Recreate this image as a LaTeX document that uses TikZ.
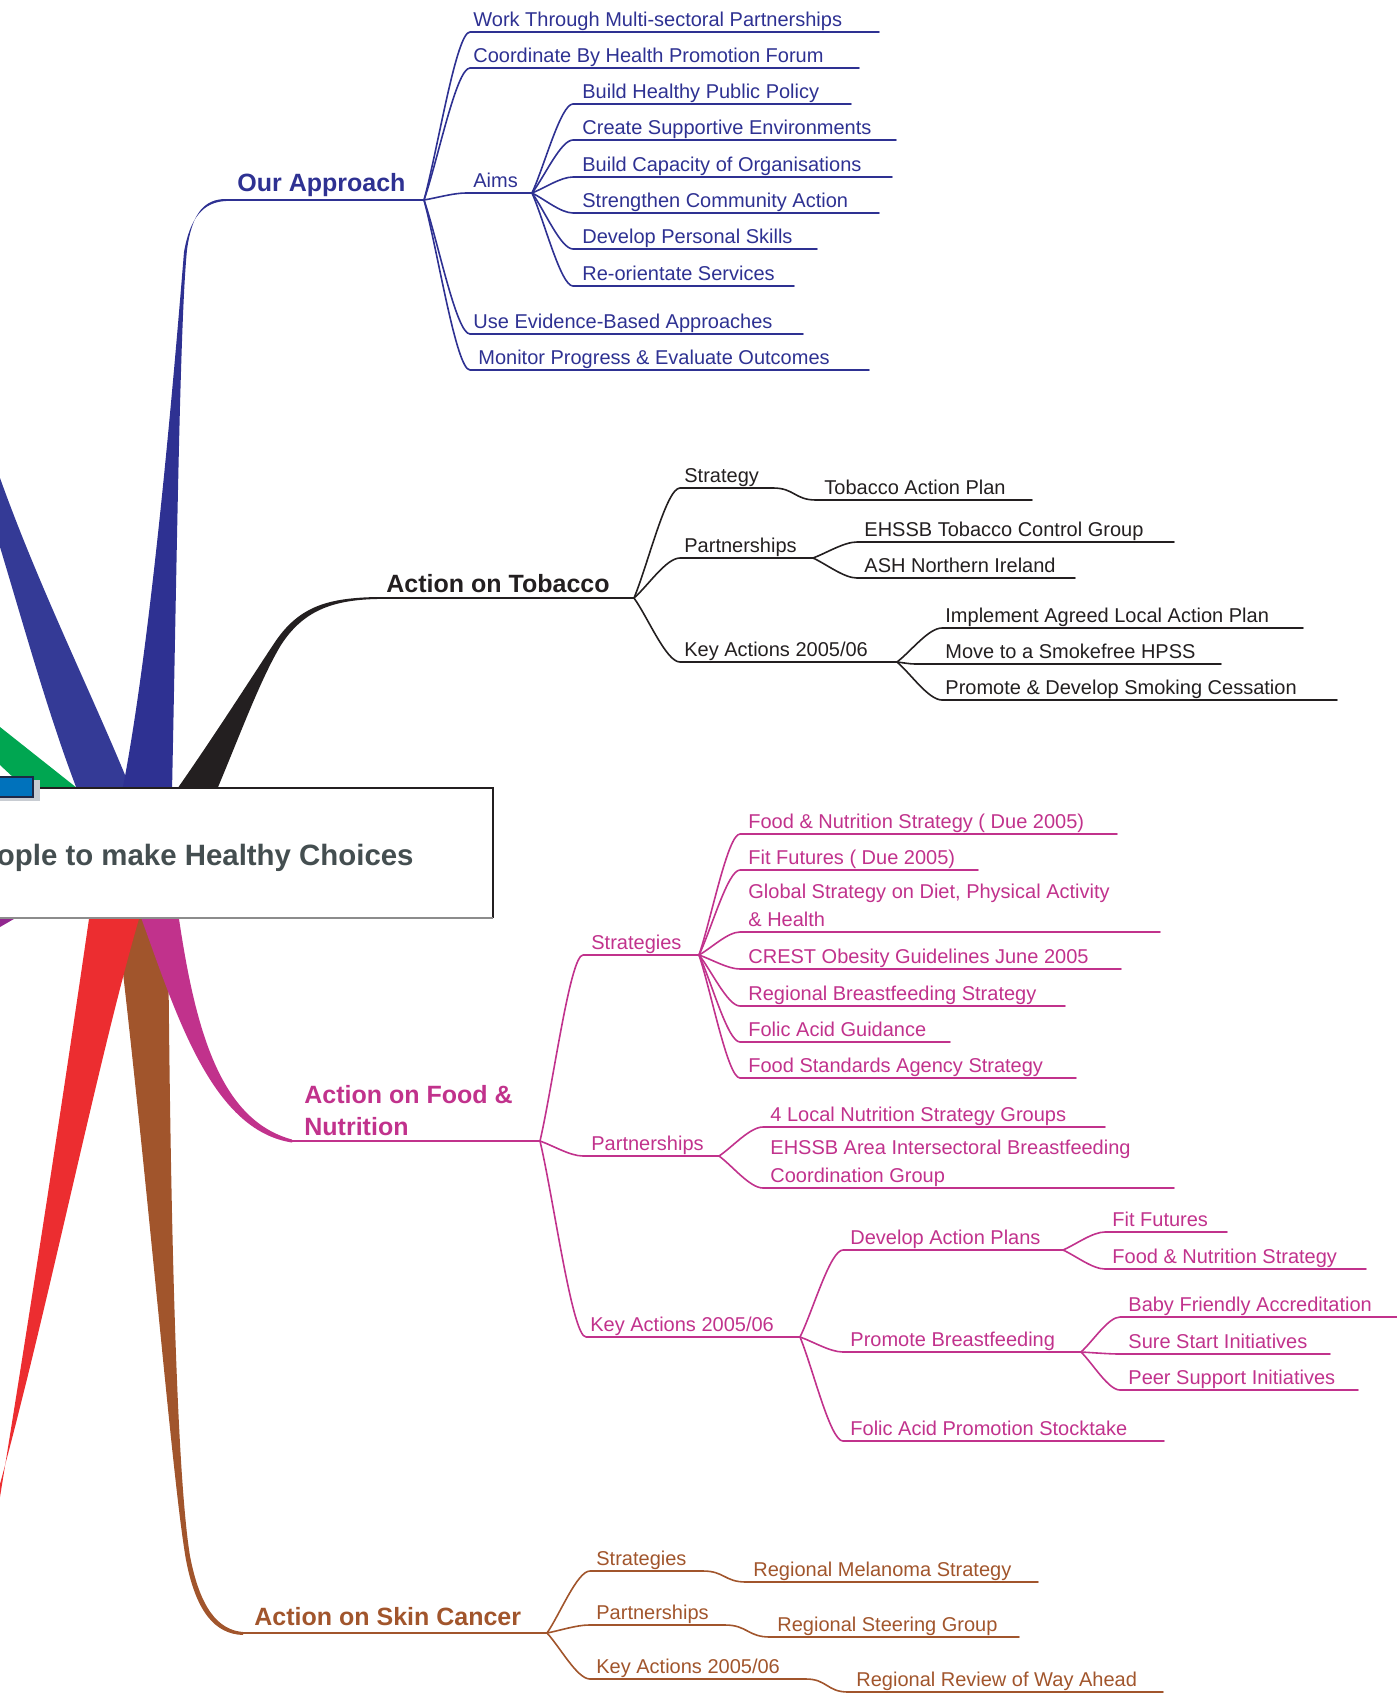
\documentclass[tikz,border=0pt]{standalone}
\usepackage{fontspec}
\setmainfont{Liberation Sans}
\usetikzlibrary{calc}

\definecolor{navy}{RGB}{46,49,146}
\definecolor{navyA}{RGB}{52,58,150}
\definecolor{ink}{RGB}{35,31,32}
\definecolor{rose}{RGB}{193,50,140}
\definecolor{rust}{RGB}{161,85,44}
\definecolor{scarlet}{RGB}{236,45,48}
\definecolor{leafgreen}{RGB}{0,166,81}
\definecolor{plum}{RGB}{146,39,143}
\definecolor{tabblue}{RGB}{0,114,188}
\definecolor{tabline}{RGB}{30,40,70}
\definecolor{tabshade}{RGB}{200,204,210}
\definecolor{slate}{RGB}{68,78,80}
\definecolor{rulegray}{RGB}{140,140,140}

\tikzset{
  lbl/.style={anchor=base west, inner sep=0pt, font=\fontsize{10}{14}\selectfont},
  head/.style={anchor=base west, inner sep=0pt, font=\bfseries\fontsize{12.5}{16}\selectfont},
  core/.style={anchor=base east, inner sep=0pt, text=slate, font=\bfseries\fontsize{14.7}{18}\selectfont},
  twig/.style={line width=0.8pt, line cap=round, line join=round},
  stem/.style={line width=1pt, line cap=round},
  sprig/.style={to path={.. controls ($(\tikztostart)!0.3!(\tikztotarget)$) and ($(\tikztotarget)!0.3!(\tikztostart|-\tikztotarget)$) .. (\tikztotarget)}},
  swerve/.style={to path={.. controls ($(\tikztostart)!0.5!(\tikztotarget|-\tikztostart)$) and ($(\tikztotarget)!0.5!(\tikztostart|-\tikztotarget)$) .. (\tikztotarget)}}
}

% [connector] name, parent, corner x, text x, rule y, rule end x, text
\newcommand\leaf[8][sprig]{%
  \coordinate (#2-c) at (#4,#6);
  \coordinate (#2-e) at (#7,#6);
  \node[lbl] (#2) at (#5,#6-6) {#8};
  \draw[twig] (#3) to[#1] (#2-c) -- (#2-e);
}

\begin{document}
\begin{tikzpicture}[x=0.5pt,y=-0.5pt]
\useasboundingbox (0,0) rectangle (1397,1697);
\clip (0,0) rectangle (1397,1697);

% thick tapered main branches
\fill[leafgreen] (0,727) -- (82,792) -- (29,792) -- (0,765) -- cycle;
\fill[navyA] (0,547) .. controls (25,630) and (50,720) .. (78,792) -- (132,792)
  .. controls (95,700) and (40,590) .. (0,478) -- cycle;
\fill[navy] (122,792) .. controls (150,650) and (172,400) .. (184,252)
  .. controls (190,218) and (203,202) .. (226,201) -- (226,199)
  .. controls (205,199) and (192,212) .. (187,250)
  .. controls (180,320) and (177,550) .. (172,792) -- cycle;
\fill[ink] (175,792) .. controls (215,735) and (255,672) .. (275,642)
  .. controls (300,605) and (330,598) .. (377,597) -- (377,599)
  .. controls (332,600) and (303,611) .. (281,645)
  .. controls (260,680) and (240,735) .. (216,792) -- cycle;
\fill[plum] (0,912) -- (26,912) -- (0,927) -- cycle;
\fill[rust] (116,912) .. controls (150,1200) and (172,1480) .. (186,1560)
  .. controls (196,1612) and (215,1634) .. (243,1635) -- (243,1632)
  .. controls (218,1630) and (200,1608) .. (190,1556)
  .. controls (176,1470) and (170,1200) .. (168,912) -- cycle;
\fill[scarlet] (90,912) .. controls (70,1050) and (40,1250) .. (0,1497) -- (0,1484)
  .. controls (50,1300) and (100,1050) .. (141,912) -- cycle;
\fill[rose] (139,912) .. controls (175,1010) and (210,1130) .. (292,1142.5) -- (292,1139.5)
  .. controls (220,1120) and (195,1030) .. (178,912) -- cycle;

% central topic box
\fill[white] (-2,788) rectangle (493,918);
\draw[line width=0.8pt, color=ink] (-2,788) -- (493,788) -- (493,918);
\draw[line width=1pt, color=rulegray] (-2,918) -- (493,918);
\fill[tabshade] (0,780) rectangle (40,801);
\draw[fill=tabblue, draw=tabline, line width=0.8pt] (-2,777) rectangle (33,797);
\node[core] (core) at (414,865) {ople to make Healthy Choices};

% Our Approach
\begin{scope}[color=navy]
\coordinate (oa-s) at (223,200);
\coordinate (oa-j) at (424,200);
\node[head] (oa) at (237,191) {Our Approach};
\draw[stem] (oa-s) -- (oa-j);
\leaf{wt}{oa-j}{470}{473}{32}{879}{Work Through Multi-sectoral Partnerships}
\leaf{cb}{oa-j}{470}{473}{68}{859}{Coordinate By Health Promotion Forum}
\leaf{aims}{oa-j}{466}{473}{193}{532}{Aims}
\leaf{bh}{aims-e}{573}{582}{104}{851}{Build Healthy Public Policy}
\leaf{cs}{aims-e}{573}{582}{140}{896}{Create Supportive Environments}
\leaf{bc}{aims-e}{573}{582}{177}{892}{Build Capacity of Organisations}
\leaf{sc}{aims-e}{573}{582}{213}{879}{Strengthen Community Action}
\leaf{dp}{aims-e}{573}{582}{249}{817}{Develop Personal Skills}
\leaf{ro}{aims-e}{573}{582}{286}{794}{Re-orientate Services}
\leaf{ue}{oa-j}{470}{473}{334}{803}{Use Evidence-Based Approaches}
\leaf{mp}{oa-j}{470}{478}{370}{869}{Monitor Progress \& Evaluate Outcomes}
\end{scope}

% Action on Tobacco
\begin{scope}[color=ink]
\coordinate (at-s) at (377,598);
\coordinate (at-j) at (634,598);
\node[head] (at) at (386,592) {Action on Tobacco};
\draw[stem] (at-s) -- (at-j);
\leaf{stg}{at-j}{680}{684}{488}{773}{Strategy}
\leaf[swerve]{tap}{stg-e}{816}{824}{500}{1032}{Tobacco Action Plan}
\leaf{ptn}{at-j}{680}{684}{558}{813}{Partnerships}
\leaf{ehg}{ptn-e}{857}{864}{542}{1174}{EHSSB Tobacco Control Group}
\leaf{ash}{ptn-e}{857}{864}{578}{1075}{ASH Northern Ireland}
\leaf{tka}{at-j}{680}{684}{662}{897}{Key Actions 2005/06}
\leaf{ial}{tka-e}{942}{945}{628}{1303}{Implement Agreed Local Action Plan}
\leaf{msf}{tka-e}{915}{945}{664}{1221}{Move to a Smokefree HPSS}
\leaf{pds}{tka-e}{942}{945}{700}{1337}{Promote \& Develop Smoking Cessation}
\end{scope}

% Action on Food & Nutrition
\begin{scope}[color=rose]
\coordinate (af-s) at (292,1141);
\coordinate (af-j) at (540,1141);
\node[head] (af) at (304,1135) {\vbox{\hbox{Action on Food \&}\hbox{Nutrition}}};
\draw[stem] (af-s) -- (af-j);
\leaf{fst}{af-j}{583}{591}{955}{699}{Strategies}
\leaf{fns}{fst-e}{740}{748}{834}{1117}{Food \& Nutrition Strategy ( Due 2005)}
\leaf{ffd}{fst-e}{740}{748}{870}{978}{Fit Futures ( Due 2005)}
\leaf{gsd}{fst-e}{740}{748}{932}{1160}{\vbox{\hbox{Global Strategy on Diet, Physical Activity}\hbox{\& Health}}}
\leaf{cog}{fst-e}{740}{748}{969}{1121}{CREST Obesity Guidelines June 2005}
\leaf{rbs}{fst-e}{740}{748}{1006}{1065}{Regional Breastfeeding Strategy}
\leaf{fag}{fst-e}{740}{748}{1042}{950}{Folic Acid Guidance}
\leaf{fsa}{fst-e}{740}{748}{1078}{1076}{Food Standards Agency Strategy}
\leaf{fpt}{af-j}{583}{591}{1156}{719}{Partnerships}
\leaf{lns}{fpt-e}{763}{770}{1127}{1105}{4 Local Nutrition Strategy Groups}
\leaf{eab}{fpt-e}{763}{770}{1188}{1174}{\vbox{\hbox{EHSSB Area Intersectoral Breastfeeding}\hbox{Coordination Group}}}
\leaf{fka}{af-j}{586}{590}{1337}{800}{Key Actions 2005/06}
\leaf{dap}{fka-e}{843}{850}{1250}{1063}{Develop Action Plans}
\leaf{ffs}{dap-e}{1105}{1112}{1232}{1227}{Fit Futures}
\leaf{fnp}{dap-e}{1105}{1112}{1269}{1366}{Food \& Nutrition Strategy}
\leaf{pbf}{fka-e}{843}{850}{1352}{1081}{Promote Breastfeeding}
\leaf{bfa}{pbf-e}{1120}{1128}{1317}{1397}{Baby Friendly Accreditation}
\leaf{ssi}{pbf-e}{1120}{1128}{1354}{1330}{Sure Start Initiatives}
\leaf{psi}{pbf-e}{1120}{1128}{1390}{1358}{Peer Support Initiatives}
\leaf{fap}{fka-e}{843}{850}{1441}{1164}{Folic Acid Promotion Stocktake}
\end{scope}

% Action on Skin Cancer
\begin{scope}[color=rust]
\coordinate (sk-s) at (243,1633);
\coordinate (sk-j) at (547,1633);
\node[head] (sk) at (254,1625) {Action on Skin Cancer};
\draw[stem] (sk-s) -- (sk-j);
\leaf{sst}{sk-j}{590}{596}{1571}{703}{Strategies}
\leaf[swerve]{rms}{sst-e}{746}{753}{1582}{1038}{Regional Melanoma Strategy}
\leaf{spt}{sk-j}{589}{596}{1625}{725}{Partnerships}
\leaf[swerve]{rsg}{spt-e}{770}{777}{1637}{1019}{Regional Steering Group}
\leaf{ska}{sk-j}{590}{596}{1679}{806}{Key Actions 2005/06}
\leaf[swerve]{rrw}{ska-e}{848}{856}{1692}{1163}{Regional Review of Way Ahead}
\end{scope}
\end{tikzpicture}
\end{document}
